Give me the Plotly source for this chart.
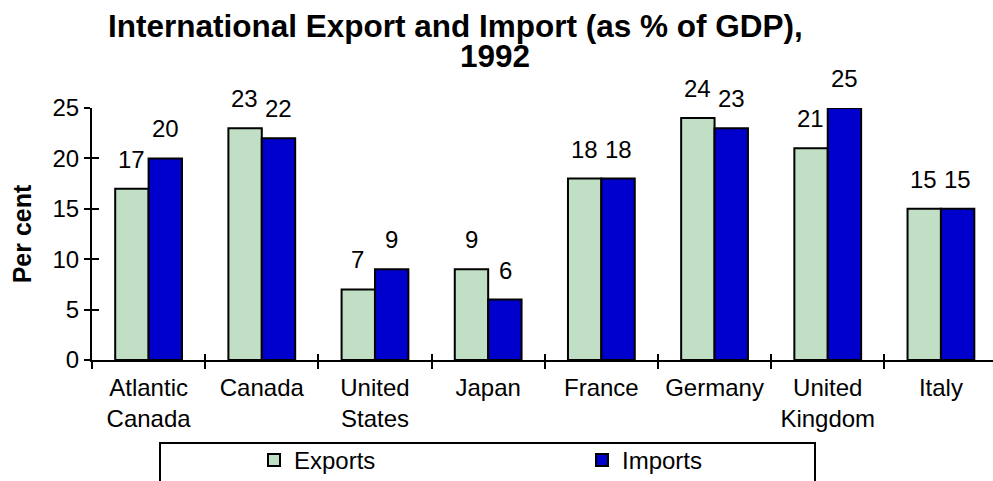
import plotly.graph_objects as go

# Export / import shares of GDP, 1992
countries = ["Atlantic<br>Canada", "Canada", "United<br>States", "Japan",
             "France", "Germany", "United<br>Kingdom", "Italy"]
exports = [17, 23, 7, 9, 18, 24, 21, 15]
imports = [20, 22, 9, 6, 18, 23, 25, 15]
y_ticks = [0, 5, 10, 15, 20, 25]

W, H = 993, 481
L, R, T, B = 92, 0, 108, 121
PW, PH = W - L - R, H - T - B

FONT = "Liberation Sans, Arial, sans-serif"
EXP_COLOR = "#C0DFC4"
IMP_COLOR = "#0000CC"


def px_x(px):
    return (px - L) / PW


def px_y(py):
    return (H - B - py) / PH


fig = go.Figure()
fig.add_trace(go.Bar(name="Exports", x=countries, y=exports,
                     marker=dict(color=EXP_COLOR, line=dict(color="black", width=2))))
fig.add_trace(go.Bar(name="Imports", x=countries, y=imports,
                     marker=dict(color=IMP_COLOR, line=dict(color="black", width=2))))

annotations = []
# value labels above each bar
for i, c in enumerate(countries):
    for val, shift in ((exports[i], -17), (imports[i], 17)):
        annotations.append(dict(x=c, y=val, xref="x", yref="y", text=str(val),
                                showarrow=False, xshift=shift, yanchor="bottom",
                                yshift=14, font=dict(size=24, color="black", family=FONT)))

# two-line title
annotations.append(dict(xref="paper", yref="paper", x=px_x(455), y=px_y(26),
                        text="<b>International Export and Import (as % of GDP),</b>",
                        showarrow=False, xanchor="center", yanchor="middle",
                        font=dict(size=31.5, color="black", family=FONT)))
annotations.append(dict(xref="paper", yref="paper", x=px_x(495), y=px_y(56),
                        text="<b>1992</b>", showarrow=False, xanchor="center",
                        yanchor="middle",
                        font=dict(size=31.5, color="black", family=FONT)))

fig.update_layout(
    width=W, height=H,
    margin=dict(l=L, r=R, t=T, b=B, autoexpand=False),
    paper_bgcolor="white", plot_bgcolor="white",
    barmode="group", bargap=0.41, bargroupgap=0,
    font=dict(family=FONT, size=24, color="black"),
    showlegend=True,
    legend=dict(orientation="h", x=px_x(254), y=px_y(438), xanchor="left", yanchor="top",
                bgcolor="rgba(0,0,0,0)", borderwidth=0, entrywidth=283,
                font=dict(size=24, color="black", family=FONT), itemwidth=30),
    annotations=annotations,
    shapes=[dict(type="rect", xref="paper", yref="paper",
                 x0=px_x(160), x1=px_x(815), y0=px_y(443), y1=px_y(495),
                 line=dict(color="black", width=2), fillcolor="rgba(0,0,0,0)", layer="below")],
    xaxis=dict(type="category", range=[-0.5, 7.46], showline=True, linecolor="black",
               linewidth=2, ticks="outside", tickson="boundaries", ticklen=7,
               tickwidth=2, tickcolor="black", showgrid=False, zeroline=False,
               ticklabelstandoff=5,
               tickfont=dict(size=24, family=FONT, color="black")),
    yaxis=dict(range=[0, 25], tickvals=y_ticks, showline=True, linecolor="black",
               linewidth=2, ticks="outside", ticklen=6, tickwidth=2, tickcolor="black",
               showgrid=False, zeroline=False,
               tickfont=dict(size=24, family=FONT, color="black"),
               title=dict(text="<b>Per cent</b>", font=dict(size=25, family=FONT, color="black"),
                          standoff=14)),
    # overlay axes to give the tick marks their inner half
    xaxis2=dict(overlaying="x", anchor="y", range=[-0.5, 7.46], tickmode="array",
                tickvals=[-0.5, 0.5, 1.5, 2.5, 3.5, 4.5, 5.5, 6.5, 7.5], ticks="inside",
                ticklen=6, tickwidth=2, tickcolor="black", showticklabels=False,
                showline=False, showgrid=False, zeroline=False),
    yaxis2=dict(overlaying="y", anchor="x", range=[0, 25], tickvals=y_ticks,
                ticks="inside", ticklen=7, tickwidth=2, tickcolor="black",
                showticklabels=False, showline=False, showgrid=False, zeroline=False),
)
fig.add_trace(go.Scatter(x=[None], y=[None], xaxis="x2", yaxis="y2",
                         showlegend=False, hoverinfo="skip"))

fig.write_html("out.html")
